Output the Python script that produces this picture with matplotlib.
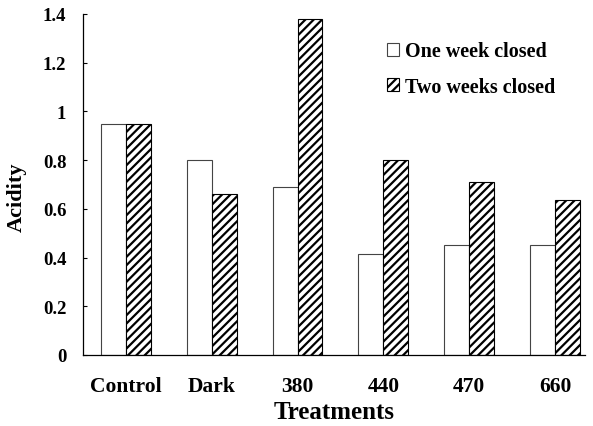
import matplotlib
matplotlib.use("Agg")
import matplotlib.pyplot as plt
import numpy as np

categories = ["Control", "Dark", "380", "440", "470", "660"]
one_week = [0.95, 0.80, 0.69, 0.415, 0.45, 0.45]
two_weeks = [0.95, 0.66, 1.38, 0.80, 0.71, 0.635]
yticks = [0, 0.2, 0.4, 0.6, 0.8, 1, 1.2, 1.4]
ytick_labels = ["0", "0.2", "0.4", "0.6", "0.8", "1", "1.2", "1.4"]

plt.rcParams['font.family'] = ['Liberation Serif', 'DejaVu Serif']
plt.rcParams['font.weight'] = 'bold'
plt.rcParams['hatch.linewidth'] = 1.6

fig = plt.figure(figsize=(5.93, 4.27), dpi=100)
ax = fig.add_axes([83/593, 1-356/427, (585-83)/593, (356-15)/427])

x = np.arange(len(categories))
w = 0.29
ax.bar(x - w/2, one_week, w, color='white', edgecolor='#444444', linewidth=0.8,
       label='One week closed')
ax.bar(x + w/2, two_weeks, w, color='white', edgecolor='black', linewidth=0.8,
       hatch='////', label='Two weeks closed')

ax.set_xlim(-0.5, 5.35)
ax.set_ylim(0, 1.4)
ax.set_yticks(yticks)
ax.set_yticklabels(ytick_labels, fontsize=13.5, fontweight='bold')
ax.set_xticks(x)
ax.set_xticklabels(categories, fontsize=15.5, fontweight='bold')
ax.tick_params(axis='y', direction='in', length=3, width=0.8, pad=12)
ax.tick_params(axis='x', length=0, pad=15)
ax.spines['top'].set_visible(False)
ax.spines['right'].set_visible(False)
ax.spines['left'].set_linewidth(0.9)
ax.spines['bottom'].set_linewidth(0.9)

ax.set_ylabel('Acidity', fontsize=16, fontweight='bold')
ax.yaxis.set_label_coords(-0.112, 0.466)
ax.set_xlabel('Treatments', fontsize=18, fontweight='bold', labelpad=3)

leg = ax.legend(loc='upper right', bbox_to_anchor=(0.965, 0.955), frameon=False,
                fontsize=14.5, handlelength=0.6, handleheight=0.6,
                handletextpad=0.3, labelspacing=0.75, borderaxespad=0.2)

fig.savefig('out.png', dpi=100)
